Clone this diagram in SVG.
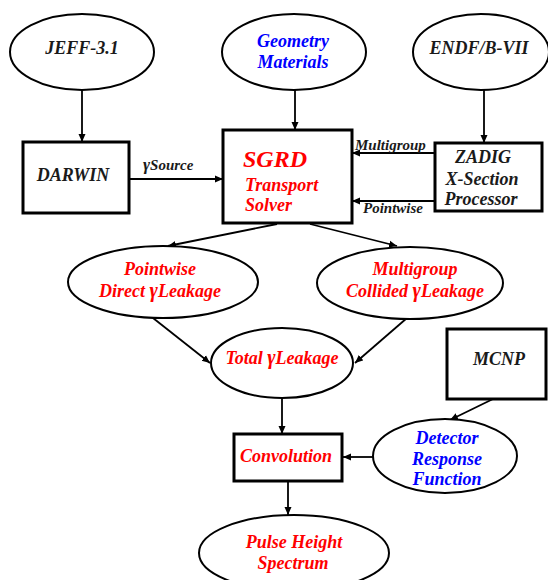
<svg xmlns="http://www.w3.org/2000/svg" width="548" height="580" viewBox="0 0 548 580">
<style>
.k{fill:#1a1a1a}.r{fill:#ff0000}.b{fill:#0000ff}
.box{fill:#fff;stroke:#000;stroke-width:3}
.ell{fill:#fff;stroke:#000;stroke-width:2}
.c{fill:none;stroke:#000;stroke-width:1.8;marker-end:url(#ah)}
</style>
<defs>
<marker id="ah" markerUnits="userSpaceOnUse" markerWidth="10" markerHeight="10" refX="8" refY="4" orient="auto">
<path d="M0,0.5 L8,4 L0,7.5 Z" fill="#000"/>
</marker>
</defs>
<rect width="548" height="580" fill="#fff"/>
<g font-family="'Liberation Serif', 'DejaVu Serif', serif" font-weight="bold" font-style="italic" font-size="18" text-anchor="middle">
<g id="connectors">
<path class="c" d="M82,90 V142"/>
<path class="c" d="M295,90 V130"/>
<path class="c" d="M484,90 V143"/>
<path class="c" d="M129,179 H223"/>
<path class="c" d="M435,153 H352"/>
<path class="c" d="M435,201 H352"/>
<path class="c" d="M277,224 L168,246"/>
<path class="c" d="M310,224 L397,246"/>
<path class="c" d="M153,318 L210,363"/>
<path class="c" d="M407,318 L355,363"/>
<path class="c" d="M282,398 V434"/>
<path class="c" d="M493,399 L450,420"/>
<path class="c" d="M373,457 H343"/>
<path class="c" d="M288,481 V515"/>
<text class="k" x="143" y="170" font-size="15" text-anchor="start"><tspan font-size="17">γ</tspan>Source</text>
<text class="k" x="355" y="150" font-size="15" text-anchor="start">Multigroup</text>
<text class="k" x="363" y="213" font-size="15" text-anchor="start">Pointwise</text>
</g>
<g id="jeff">
<ellipse class="ell" cx="82" cy="52" rx="72" ry="38"/>
<text class="k" x="82" y="54">JEFF-3.1</text>
</g>
<g id="geometry">
<ellipse class="ell" cx="294" cy="52" rx="72" ry="38"/>
<text class="b" x="293" y="47">Geometry</text>
<text class="b" x="293" y="68">Materials</text>
</g>
<g id="endf">
<ellipse class="ell" cx="481" cy="52" rx="68" ry="38"/>
<text class="k" x="479" y="54">ENDF/B-VII</text>
</g>
<g id="darwin">
<rect class="box" x="23" y="142" width="106" height="71"/>
<text class="k" x="73" y="181">DARWIN</text>
</g>
<g id="sgrd">
<rect class="box" x="223" y="130" width="129" height="93"/>
<text class="r" x="243" y="167" font-size="24" text-anchor="start">SGRD</text>
<text class="r" x="245" y="191" text-anchor="start">Transport</text>
<text class="r" x="245" y="211" text-anchor="start">Solver</text>
</g>
<g id="zadig">
<rect class="box" x="435" y="143" width="107" height="68"/>
<text class="k" x="483" y="163">ZADIG</text>
<text class="k" x="482" y="185">X-Section</text>
<text class="k" x="481" y="205">Processor</text>
</g>
<g id="pointwise">
<ellipse class="ell" cx="163" cy="282" rx="95" ry="36"/>
<text class="r" x="160" y="275">Pointwise</text>
<text class="r" x="160" y="297">Direct <tspan font-size="20">γ</tspan>Leakage</text>
</g>
<g id="multigroup">
<ellipse class="ell" cx="410" cy="283" rx="93" ry="36"/>
<text class="r" x="415" y="275">Multigroup</text>
<text class="r" x="415" y="297">Collided <tspan font-size="20">γ</tspan>Leakage</text>
</g>
<g id="total">
<ellipse class="ell" cx="282" cy="363" rx="71" ry="35"/>
<text class="r" x="282" y="364">Total <tspan font-size="20">γ</tspan>Leakage</text>
</g>
<g id="mcnp">
<rect class="box" x="447" y="329" width="99" height="70"/>
<text class="k" x="499" y="365">MCNP</text>
</g>
<g id="detector">
<ellipse class="ell" cx="445" cy="456" rx="72" ry="37"/>
<text class="b" x="447" y="444">Detector</text>
<text class="b" x="447" y="465">Response</text>
<text class="b" x="447" y="485">Function</text>
</g>
<g id="convolution">
<rect class="box" x="234" y="434" width="108" height="47"/>
<text class="r" x="286" y="462">Convolution</text>
</g>
<g id="pulse">
<ellipse class="ell" cx="294" cy="553" rx="95" ry="38"/>
<text class="r" x="294" y="548">Pulse Height</text>
<text class="r" x="293" y="569">Spectrum</text>
</g>
</g>
</svg>
